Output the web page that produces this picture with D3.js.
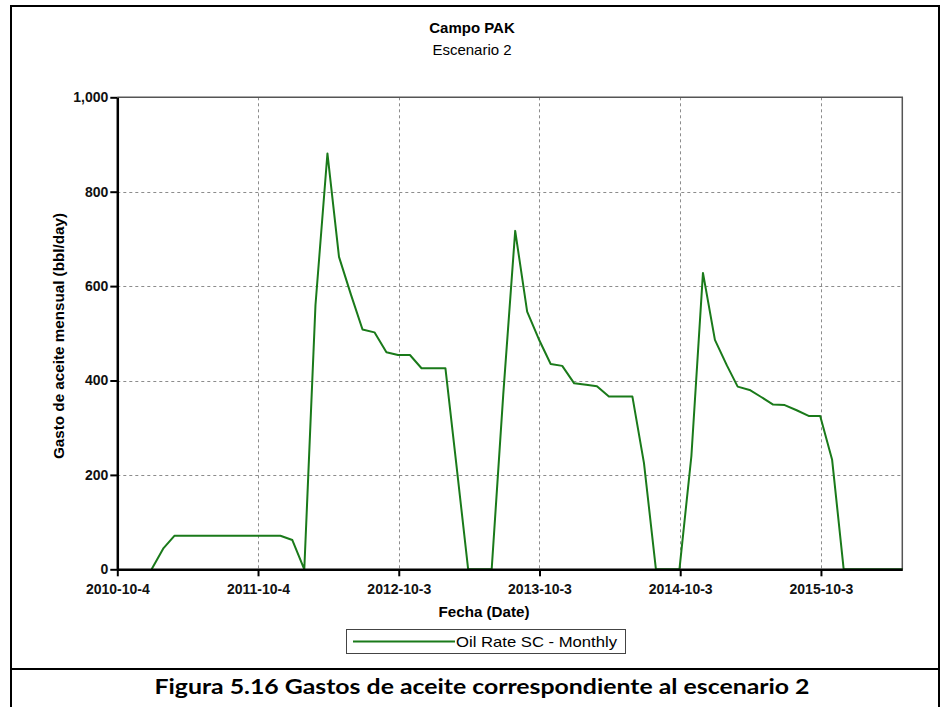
<!DOCTYPE html>
<html>
<head>
<meta charset="utf-8">
<script src="https://cdn.jsdelivr.net/npm/d3@7"></script>
<style>
  html, body { margin: 0; padding: 0; background: #fff; }
  svg { display: block; }
</style>
</head>
<body>
<svg id="chart" width="943" height="707"></svg>
<script>
// ---- Data ----
const title = "Campo PAK";
const subtitle = "Escenario 2";
const xTitle = "Fecha (Date)";
const yTitle = "Gasto de aceite mensual (bbl/day)";
const seriesName = "Oil Rate SC - Monthly";
const caption = "Figura 5.16 Gastos de aceite correspondiente al escenario 2";

const months = [
  "2011-01-01","2011-02-01","2011-03-01","2011-04-01","2011-05-01","2011-06-01",
  "2011-07-01","2011-08-01","2011-09-01","2011-10-01","2011-11-01","2011-12-01",
  "2012-01-01","2012-02-01","2012-03-01","2012-04-01","2012-05-01","2012-06-01",
  "2012-07-01","2012-08-01","2012-09-01","2012-10-01","2012-11-01","2012-12-01",
  "2013-01-01","2013-02-01","2013-03-01","2013-04-01","2013-05-01","2013-06-01",
  "2013-07-01","2013-08-01","2013-09-01","2013-10-01","2013-11-01","2013-12-01",
  "2014-01-01","2014-02-01","2014-03-01","2014-04-01","2014-05-01","2014-06-01",
  "2014-07-01","2014-08-01","2014-09-01","2014-10-01","2014-11-01","2014-12-01",
  "2015-01-01","2015-02-01","2015-03-01","2015-04-01","2015-05-01","2015-06-01",
  "2015-07-01","2015-08-01","2015-09-01","2015-10-01","2015-11-01","2015-12-01",
  "2016-01-01","2016-02-01","2016-03-01","2016-04-01","2016-05-01"
];
const oilRate = [
  0, 45, 71, 71, 71, 71,
  71, 71, 71, 71, 71, 71,
  62, 0, 560, 881, 662, 582,
  508, 502, 460, 454, 454, 426,
  426, 426, 225, 0, 0, 0,
  370, 717, 546, 488, 435, 431,
  394, 391, 388, 366, 366, 366,
  225, 0, 0, 0, 240, 628,
  486, 432, 387, 380, 365, 349,
  348, 337, 325, 325, 232, 0,
  0, 0, 0, 0, 0
];

const yTicks = [0, 200, 400, 600, 800, 1000];
const yTickLabels = ["0", "200", "400", "600", "800", "1,000"];
const xTickDates = ["2010-10-04","2011-10-04","2012-10-03","2013-10-03","2014-10-03","2015-10-03"];
const xTickLabels = ["2010-10-4","2011-10-4","2012-10-3","2013-10-3","2014-10-3","2015-10-3"];
const xDomain = ["2010-10-04", "2016-05-01"];

// ---- Drawing ----
const parse = d3.utcParse("%Y-%m-%d");
const data = months.map((m, i) => ({ date: parse(m), value: oilRate[i] }));

const svg = d3.select("#chart");
const L = 117.3, R = 902.3, T = 97.3, B = 569.3;
const green = "#1a7a1a";
const font = "'Liberation Sans', Arial, sans-serif";

const x = d3.scaleUtc().domain(xDomain.map(parse)).range([L, R]);
const y = d3.scaleLinear().domain([0, 1000]).range([B, T]);

// outer frame and caption separator
svg.append("rect").attr("x", 11).attr("y", 6).attr("width", 928).attr("height", 704)
  .attr("fill", "none").attr("stroke", "#000").attr("stroke-width", 2);
svg.append("line").attr("x1", 11).attr("x2", 939).attr("y1", 669).attr("y2", 669)
  .attr("stroke", "#000").attr("stroke-width", 2);

// titles
svg.append("text").attr("x", 472).attr("y", 33).attr("text-anchor", "middle")
  .attr("font-family", font).attr("font-weight", "bold").attr("font-size", 15).text(title);
svg.append("text").attr("x", 472).attr("y", 55).attr("text-anchor", "middle")
  .attr("font-family", font).attr("font-size", 15).text(subtitle);

// grid
const grid = svg.append("g").attr("stroke", "#8c8c8c").attr("stroke-width", 1)
  .attr("stroke-dasharray", "3,3").attr("fill", "none");
grid.selectAll(".gy").data(yTicks.filter(v => v > 0 && v < 1000)).join("line")
  .attr("x1", L).attr("x2", R).attr("y1", d => Math.round(y(d)) + 0.5).attr("y2", d => Math.round(y(d)) + 0.5);
grid.selectAll(".gx").data(xTickDates.slice(1)).join("line")
  .attr("y1", T).attr("y2", B).attr("x1", d => Math.round(x(parse(d))) + 0.5).attr("x2", d => Math.round(x(parse(d))) + 0.5);

// plot frame top/right
svg.append("path").attr("d", `M${L},${T}H${R}V${B}`).attr("fill", "none")
  .attr("stroke", "#555").attr("stroke-width", 1.5);

// series line
const line = d3.line().x(d => x(d.date)).y(d => y(d.value));
svg.append("path").datum(data).attr("d", line).attr("fill", "none")
  .attr("stroke", green).attr("stroke-width", 2).attr("stroke-linejoin", "round");

// axes
const yAxis = d3.axisLeft(y).tickValues(yTicks).tickFormat((d, i) => yTickLabels[i]).tickSize(7).tickSizeOuter(0);
const gy = svg.append("g").attr("transform", `translate(${L},0)`).call(yAxis);
const xAxis = d3.axisBottom(x).tickValues(xTickDates.map(parse)).tickFormat((d, i) => xTickLabels[i]).tickSize(7).tickSizeOuter(0);
const gx = svg.append("g").attr("transform", `translate(0,${B})`).call(xAxis);
[gx, gy].forEach(g => {
  g.select(".domain").attr("stroke", "#000").attr("stroke-width", 2.5);
  g.selectAll(".tick line").attr("stroke", "#000").attr("stroke-width", 2);
  g.selectAll(".tick text").attr("font-family", font).attr("font-weight", "bold")
    .attr("font-size", 14).attr("fill", "#111");
});
gy.selectAll(".tick text").attr("x", -9);
gx.selectAll(".tick text").attr("y", 15);

// axis titles
svg.append("text").attr("x", 484).attr("y", 617).attr("text-anchor", "middle")
  .attr("font-family", font).attr("font-weight", "bold").attr("font-size", 15)
  .attr("textLength", 91).attr("lengthAdjust", "spacingAndGlyphs").text(xTitle);
svg.append("text").attr("transform", `translate(64,336) rotate(-90)`).attr("text-anchor", "middle")
  .attr("font-family", font).attr("font-weight", "bold").attr("font-size", 14)
  .attr("textLength", 246).attr("lengthAdjust", "spacingAndGlyphs").text(yTitle);

// legend
const lg = svg.append("g");
lg.append("rect").attr("x", 346.5).attr("y", 629.5).attr("width", 279).attr("height", 24)
  .attr("fill", "#fff").attr("stroke", "#444").attr("stroke-width", 1);
lg.append("line").attr("x1", 353).attr("x2", 455).attr("y1", 641.5).attr("y2", 641.5)
  .attr("stroke", green).attr("stroke-width", 2);
lg.append("text").attr("x", 456).attr("y", 647).attr("font-family", font)
  .attr("font-size", 15).attr("textLength", 161).attr("lengthAdjust", "spacingAndGlyphs").text(seriesName);

// caption
svg.append("text").attr("x", 482).attr("y", 694).attr("text-anchor", "middle")
  .attr("font-family", "Lato, 'Noto Sans', sans-serif").attr("font-weight", "bold").attr("font-size", 20)
  .attr("textLength", 655).attr("lengthAdjust", "spacingAndGlyphs").text(caption);
</script>
</body>
</html>
